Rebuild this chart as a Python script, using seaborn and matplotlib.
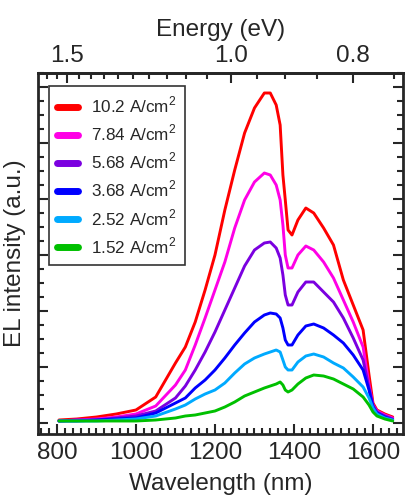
import numpy as np
import pandas as pd
import matplotlib
matplotlib.use("Agg")
import matplotlib.pyplot as plt
import seaborn as sns
from matplotlib.ticker import MultipleLocator, FixedLocator, NullFormatter
from matplotlib.lines import Line2D

wavelength = [805, 850, 900, 950, 1000, 1050, 1100, 1125, 1150, 1175, 1200, 1225, 1250,
              1275, 1300, 1325, 1340, 1355, 1365, 1372, 1378, 1385, 1395, 1410, 1430,
              1450, 1475, 1500, 1525, 1550, 1575, 1590, 1600, 1610, 1630, 1650]

i_102 = [3, 4, 6, 9, 13, 26, 60, 76, 101, 133, 168, 213, 253, 290, 315, 330, 330, 318,
         298, 248, 223, 193, 188, 203, 215, 210, 195, 178, 143, 118, 93, 48, 20, 13, 9, 6]
i_784 = [2, 3, 4, 6, 9, 17, 38, 53, 78, 105, 133, 161, 195, 223, 241, 250, 248, 238,
         223, 198, 168, 155, 155, 168, 177, 173, 161, 145, 123, 101, 76, 38, 18, 12, 8, 5]
i_568 = [2, 3, 3, 5, 7, 12, 25, 37, 53, 71, 91, 113, 135, 157, 173, 180, 181, 175,
         165, 148, 128, 118, 118, 131, 141, 141, 131, 121, 105, 85, 63, 35, 18, 11, 7, 4]
i_368 = [2, 2, 3, 4, 5, 10, 20, 25, 35, 43, 53, 65, 78, 90, 101, 108, 110, 109,
         105, 95, 83, 78, 78, 88, 97, 99, 95, 88, 80, 68, 53, 33, 16, 10, 6, 3]
i_252 = [2, 2, 2, 3, 4, 7, 14, 18, 24, 29, 33, 40, 50, 59, 65, 69, 71, 73,
         71, 63, 56, 53, 53, 61, 67, 69, 66, 60, 55, 46, 36, 25, 15, 9, 5, 3]
i_152 = [2, 2, 2, 2, 2, 3, 5, 7, 8, 10, 12, 16, 21, 27, 31, 35, 37, 39,
         41, 38, 33, 31, 33, 39, 45, 48, 47, 44, 39, 34, 26, 18, 11, 7, 4, 2]

labels = ["10.2 A/cm$^2$", "7.84 A/cm$^2$", "5.68 A/cm$^2$",
          "3.68 A/cm$^2$", "2.52 A/cm$^2$", "1.52 A/cm$^2$"]
colors = ["#FF0000", "#FF00E6", "#7B00E0", "#0000FF", "#00AAFF", "#00C000"]
series = [i_102, i_784, i_568, i_368, i_252, i_152]

rows = []
for lab, vals in zip(labels, series):
    for w, v in zip(wavelength, vals):
        rows.append({"Wavelength": w, "Intensity": v, "Current": lab})
df = pd.DataFrame(rows)

sns.set_style("ticks")
plt.rcParams["font.family"] = ["Liberation Sans", "DejaVu Sans"]
plt.rcParams["mathtext.fontset"] = "custom"
plt.rcParams["mathtext.rm"] = "Liberation Sans"

fig = plt.figure(figsize=(4.06, 4.98), dpi=100)
ax = fig.add_axes([38 / 406, 1 - 434 / 498, 365 / 406, 361 / 498])

for lab, col in zip(labels, colors):
    sns.lineplot(data=df[df["Current"] == lab], x="Wavelength", y="Intensity",
                 color=col, lw=2.1, ax=ax, legend=False)

ax.set_xlim(752, 1676)
ax.set_ylim(-11, 350)
ax.set_xlabel("Wavelength (nm)", fontsize=17.5, labelpad=6)
ax.set_ylabel("EL intensity (a.u.)", fontsize=17.5, labelpad=5)

ax.xaxis.set_major_locator(MultipleLocator(200))
ax.xaxis.set_minor_locator(MultipleLocator(20))
ax.yaxis.set_major_locator(MultipleLocator(56))
ax.yaxis.set_minor_locator(MultipleLocator(14))
ax.yaxis.set_major_formatter(NullFormatter())
ax.tick_params(axis="both", which="both", direction="in", width=1.5)
ax.tick_params(axis="y", which="both", left=True, right=True)
ax.tick_params(axis="x", which="both", top=False, bottom=True)
ax.tick_params(which="major", length=7, labelsize=17.5)
ax.tick_params(which="minor", length=4)
ax.tick_params(axis="x", which="major", pad=6)
for s in ax.spines.values():
    s.set_linewidth(2)
    s.set_visible(True)

def w2e(x):
    x = np.asarray(x, dtype=float)
    with np.errstate(divide="ignore"):
        return 1240.0 / x

sec = ax.secondary_xaxis("top", functions=(w2e, w2e))
sec.xaxis.set_major_locator(FixedLocator([1.5, 1.0, 0.8]))
sec.set_xticklabels(["1.5", "1.0", "0.8"])
sec.xaxis.set_minor_locator(FixedLocator(np.round(np.arange(0.75, 1.651, 0.05), 2)))
sec.tick_params(which="both", direction="in", width=1.5)
sec.tick_params(which="major", length=7, labelsize=17.5, pad=4)
sec.tick_params(which="minor", length=4)
sec.set_xlabel("Energy (eV)", fontsize=17.5, labelpad=7)
sec.spines["top"].set_linewidth(2)

handles = [Line2D([0], [0], color=c, lw=5) for c in colors]
leg = ax.legend(handles, labels, loc="upper left", bbox_to_anchor=(0.03, 0.963),
                borderaxespad=0, fontsize=12.3, frameon=True, fancybox=False,
                handlelength=1.2, handletextpad=0.75, labelspacing=0.44,
                borderpad=0.5)
leg.get_frame().set_edgecolor("black")
leg.get_frame().set_linewidth(1.2)

fig.savefig("out.png", dpi=100)
